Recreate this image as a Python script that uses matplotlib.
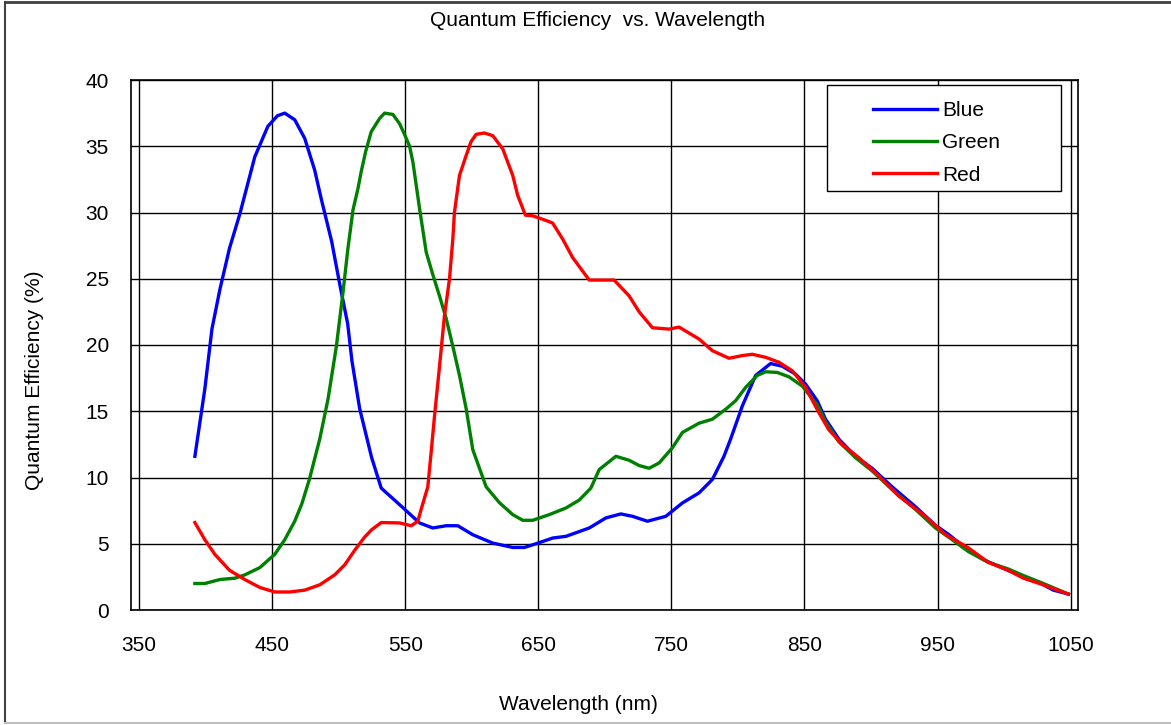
import numpy as np
import matplotlib.pyplot as plt
from matplotlib.patches import Rectangle
from matplotlib.lines import Line2D

plt.rcParams['font.family'] = ['Liberation Sans', 'DejaVu Sans']

#Quantum efficiency curves
blue_wl = [392, 399.5, 404.8, 410.8, 418, 425.8, 437, 446.8, 454, 459.5, 467, 474.5, 482, 487,
           494.8, 500.8, 506.8, 510, 515.8, 524.8, 532, 545.8, 560.8, 570.7, 580.8, 589.5, 600.8,
           615.8, 630.8, 639.5, 648.3, 660.8, 670.8, 688.3, 700.8, 712, 720.8, 732, 745.8, 758.3,
           770.8, 780.8, 789.5, 794.5, 803.3, 813.3, 824.5, 833.3, 843.3, 850.8, 859.5, 865.8,
           875.8, 888.3, 900.8, 915.8, 933.3, 948.3, 958.3, 973.3, 984.5, 995.8, 1010.8, 1025.8,
           1037, 1048.3]
blue_qe = [11.6, 16.7, 21.2, 24.2, 27.3, 29.9, 34.2, 36.5, 37.3, 37.5, 37.0, 35.6, 33.2, 31.0,
           27.8, 24.6, 21.6, 18.8, 15.2, 11.5, 9.2, 7.95, 6.57, 6.19, 6.36, 6.36, 5.68,
           5.05, 4.72, 4.72, 5.0, 5.43, 5.56, 6.19, 6.95, 7.25, 7.07, 6.7, 7.07, 8.08,
           8.84, 9.85, 11.6, 12.9, 15.4, 17.7, 18.6, 18.4, 17.8, 17.05, 15.8, 14.4,
           12.9, 11.6, 10.7, 9.3, 7.8, 6.4, 5.7, 4.5, 3.8, 3.3, 2.65, 2.1,
           1.5, 1.2]

green_wl = [392, 399.5, 410.8, 422, 429.5, 440.8, 452, 459.5, 467, 472.3, 478, 485.8, 492, 498.3,
            503.3, 507, 510.8, 514.5, 517, 520.3, 524.5, 530.8, 534.5, 540.8, 545.8, 549.5, 553.3,
            555.8, 560.8, 565.8, 570.8, 575.8, 580.8, 585.8, 590.8, 595.8, 600.8, 610.8, 620.8,
            630.8, 638.3, 645.8, 658.3, 670.8, 680.8, 689.5, 695.8, 708.3, 718.3, 725.8, 733.3,
            740.8, 750.8, 758.3, 770.8, 780.8, 790.8, 798.3, 805.8, 814.5, 820.8, 829.5, 838.3,
            848.3, 859.5, 865.8, 875.8, 888.3, 900.8, 915.8, 933.3, 948.3, 958.3, 973.3, 988,
            1003, 1014.5, 1029.5, 1048.3]
green_qe = [2.0, 2.0, 2.3, 2.4, 2.65, 3.2, 4.2, 5.3, 6.7, 8.0, 9.85, 12.9, 15.9, 19.9,
            24.0, 27.3, 30.2, 31.8, 33.1, 34.6, 36.1, 37.1, 37.5, 37.4, 36.7, 35.9, 35.0,
            33.8, 30.3, 27.0, 25.3, 23.7, 22.0, 19.9, 17.7, 15.2, 12.1, 9.3, 8.1,
            7.2, 6.77, 6.77, 7.2, 7.7, 8.3, 9.2, 10.6, 11.6, 11.3, 10.9, 10.7,
            11.1, 12.25, 13.4, 14.1, 14.4, 15.15, 15.8, 16.8, 17.7, 17.98, 17.93, 17.6,
            16.9, 15.5, 14.2, 12.7, 11.5, 10.5, 9.1, 7.6, 6.2, 5.5, 4.4, 3.6,
            3.1, 2.6, 2.0, 1.2]

red_wl = [392, 399.5, 407, 418, 429.5, 440.8, 452, 463.3, 474.5, 485.8, 497, 504.5, 512, 519.5,
          524.8, 532, 545.8, 554.5, 559.5, 562, 567, 569.5, 572, 575.8, 579.5, 583.3, 585.8,
          587, 590.8, 595.8, 599.5, 603.3, 609.5, 615.8, 623.3, 630.8, 634.5, 640.3, 645.8,
          655.8, 660.8, 668.3, 675.8, 688.3, 707, 718.3, 725.8, 735.8, 748.3, 755.8, 770.8,
          780.8, 793.3, 803.3, 810.8, 820.8, 830.8, 840.8, 850.8, 860.8, 868.3, 878.3, 890.8,
          903.3, 920.8, 940.8, 955.8, 973, 988, 1003, 1014.5, 1029.5, 1048.3]
red_qe = [6.6, 5.3, 4.2, 3.0, 2.3, 1.7, 1.36, 1.36, 1.5, 1.9, 2.65, 3.4, 4.5, 5.5,
          6.06, 6.6, 6.57, 6.36, 6.7, 7.6, 9.3, 11.9, 14.6, 18.4, 22.2, 25.0, 28.0,
          30.0, 32.8, 34.3, 35.35, 35.9, 36.0, 35.8, 34.8, 32.8, 31.3, 29.8, 29.75,
          29.4, 29.2, 28.0, 26.6, 24.9, 24.9, 23.7, 22.5, 21.3, 21.2, 21.35, 20.45,
          19.57, 19.0, 19.2, 19.3, 19.07, 18.7, 18.06, 16.8, 14.9, 13.6, 12.5, 11.5,
          10.35, 8.6, 7.07, 5.7, 4.7, 3.6, 3.0, 2.4, 1.9, 1.2]

x_ticks = np.arange(350, 1051, 100)
y_ticks = np.arange(0, 41, 5)

W, H = 1171, 725
fig = plt.figure(figsize=(W/100, H/100), dpi=100)
ax = fig.add_axes([131/W, 1-610/H, 947/W, 530/H])

ax.plot(blue_wl, blue_qe, c='#0000ff', lw=2.4, label='Blue', zorder=3)
ax.plot(green_wl, green_qe, c='#008000', lw=2.4, label='Green', zorder=3)
ax.plot(red_wl, red_qe, c='#ff0000', lw=2.4, label='Red', zorder=4)

ax.set_xlim(344, 1055.5)
ax.set_ylim(0, 40)
ax.set_xticks(x_ticks)
ax.set_yticks(y_ticks)
ax.grid(True, color='black', lw=1.0)
ax.set_axisbelow(True)
ax.tick_params(length=0, labelsize=15)
ax.tick_params(axis='x', pad=19)
ax.tick_params(axis='y', pad=16)
for s in ax.spines.values():
    s.set_linewidth(1.2)

fig.text(598/W, 1-20/H, 'Quantum Efficiency  vs. Wavelength', ha='center', va='center', fontsize=15)
fig.text(578/W, 1-704/H, 'Wavelength (nm)', ha='center', va='center', fontsize=15)
fig.text(35/W, 1-380/H, 'Quantum Efficiency (%)', ha='center', va='center', rotation=90, fontsize=15)

#legend with a hand-sized white box behind it
box = Rectangle((827/W, 1-191/H), 234/W, 106/H, transform=fig.transFigure,
                fc='white', ec='black', lw=1.0, clip_on=False, zorder=5)
ax.add_patch(box)
leg = ax.legend(loc='upper left', bbox_to_anchor=(873/W, 1-101/H), bbox_transform=fig.transFigure,
                frameon=False, fontsize=15, handlelength=3.08, handletextpad=0.24, labelspacing=0.64,
                borderpad=0, borderaxespad=0)
leg.set_zorder(6)

#outer frame of the figure
fig.add_artist(Line2D([5/W, 1], [1-2/H, 1-2/H], color='#404040', lw=2, transform=fig.transFigure))
fig.add_artist(Line2D([5/W, 5/W], [1-2/H, 1-723/H], color='#404040', lw=1.5, transform=fig.transFigure))
fig.add_artist(Line2D([5/W, 1], [1-723/H, 1-723/H], color='#c0c0c0', lw=1.5, transform=fig.transFigure))

plt.savefig('out.png', dpi=100)
